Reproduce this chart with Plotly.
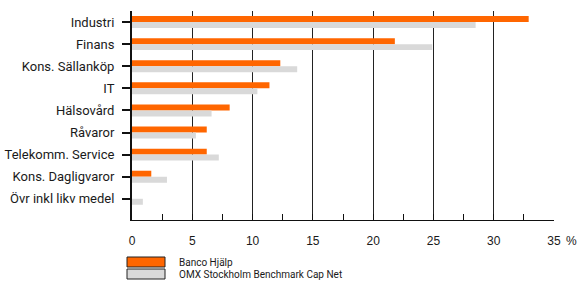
import plotly.graph_objects as go

categories = ["Industri", "Finans", "Kons. Sällanköp", "IT", "Hälsovård", "Råvaror",
              "Telekomm. Service", "Kons. Dagligvaror", "Övr inkl likv medel"]
banco = [32.9, 21.8, 12.3, 11.4, 8.1, 6.2, 6.2, 1.6, 0.0]
omx = [28.5, 24.9, 13.7, 10.4, 6.6, 5.3, 7.2, 2.9, 0.9]
series_names = ["Banco Hjälp", "OMX Stockholm Benchmark Cap Net"]
x_ticks = [0, 5, 10, 15, 20, 25, 30, 35]
unit_label = "%"

ORANGE = "#FF6600"
GREY = "#D9D9D9"
FONT = "Roboto"
XFONT = "Liberation Sans"
TXT = "#1a1a1a"

W, H = 579, 283
L, R, T, B = 132, 25, 11, 63
PW, PH = W - L - R, H - T - B


def px_x(p):
    return (p - L) / PW


def px_y(p):
    return (H - B - p) / PH


fig = go.Figure()
fig.add_trace(go.Bar(y=categories, x=banco, orientation="h", name=series_names[0],
                     marker=dict(color=ORANGE, line=dict(width=0))))
fig.add_trace(go.Bar(y=categories, x=omx, orientation="h", name=series_names[1],
                     marker=dict(color=GREY, line=dict(width=0))))

fig.update_layout(
    width=W, height=H,
    margin=dict(l=L, r=R, t=T, b=B, autoexpand=False),
    paper_bgcolor="white", plot_bgcolor="white",
    barmode="group", bargap=0.46, bargroupgap=0,
    showlegend=False,
    font=dict(family=FONT, size=12, color=TXT),
)
fig.update_xaxes(
    range=[0, 35], tickvals=x_ticks, ticktext=[str(v) for v in x_ticks],
    showgrid=True, gridcolor="#222222", gridwidth=1,
    showline=True, linecolor="#111111", linewidth=1,
    ticks="inside", ticklen=6, tickcolor="#111111", tickwidth=1,
    minor=dict(dtick=2.5, tick0=0, ticks="inside", ticklen=6, tickcolor="#111111", tickwidth=1, showgrid=False),
    zeroline=False, ticklabelstandoff=10, automargin=False,
    tickfont=dict(size=12, family=XFONT, color=TXT),
    fixedrange=True,
)
fig.update_yaxes(
    type="category", range=[8.96, -0.5],
    showline=True, linecolor="#111111", linewidth=2,
    ticks="outside", ticklen=8, tickcolor="#111111", tickwidth=2,
    showgrid=False, zeroline=False, ticklabelstandoff=5, automargin=False,
    tickfont=dict(size=13, family=FONT, color=TXT),
    fixedrange=True,
)

# percent unit label next to last tick
fig.add_annotation(x=35, y=px_y(241), xref="x", yref="paper", text=unit_label, showarrow=False,
                   xanchor="left", yanchor="middle", xshift=10,
                   font=dict(size=12, family=XFONT, color=TXT))

# custom legend: wide boxes with dark border
legend_colors = [ORANGE, GREY]
legend_top_px = [257, 269]
for name, col, top in zip(series_names, legend_colors, legend_top_px):
    fig.add_shape(type="rect", xref="paper", yref="paper",
                  x0=px_x(127), x1=px_x(165), y0=px_y(top + 10), y1=px_y(top),
                  fillcolor=col, line=dict(color="#222222", width=1))
    fig.add_annotation(x=px_x(177), y=px_y(top + 5), xref="paper", yref="paper", text=name,
                       showarrow=False, xanchor="left", yanchor="middle",
                       font=dict(size=10, family=FONT, color=TXT))

fig.write_html("out.html", config={"displayModeBar": False},
               post_script="document.body.style.margin='0px';document.body.style.overflow='hidden';")
